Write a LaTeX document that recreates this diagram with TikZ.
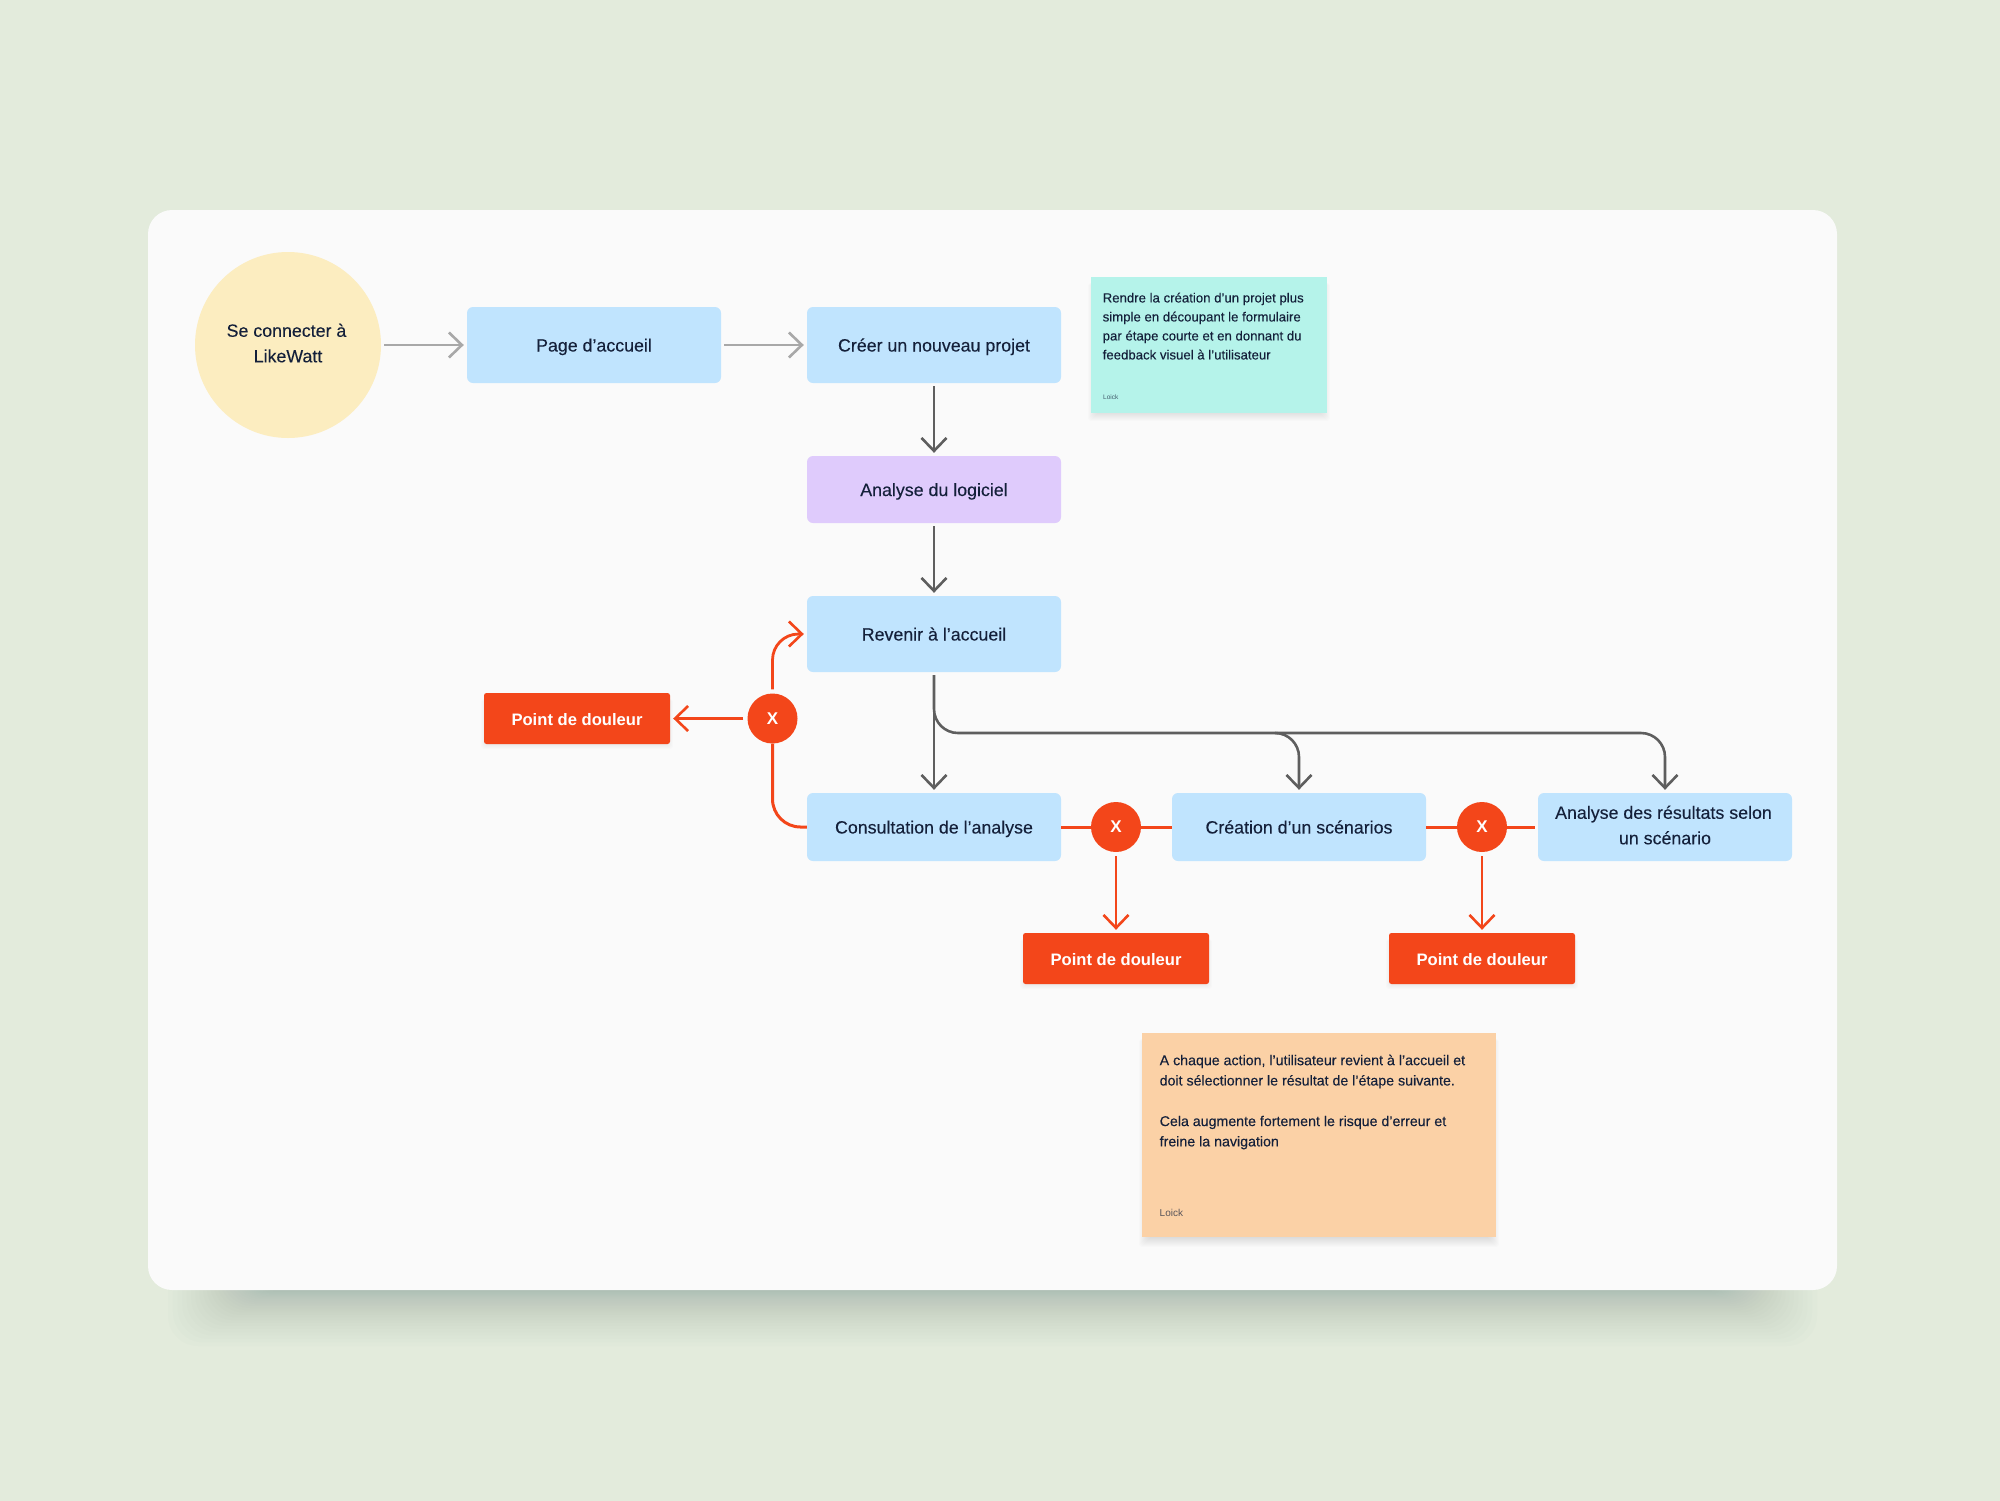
\documentclass[tikz,border=0pt]{standalone}
\usepackage{fontspec}
\setmainfont{Liberation Sans}
\newfontfamily\inkfont[FakeBold=0.15]{Liberation Sans}
\usetikzlibrary{arrows.meta,calc}
\definecolor{bgc}{HTML}{E3EBDC}
\definecolor{cardc}{HTML}{FAFAFA}
\definecolor{bluec}{HTML}{C0E4FE}
\definecolor{purplec}{HTML}{DFCBFC}
\definecolor{yellowc}{HTML}{FCEDC0}
\definecolor{tealc}{HTML}{B5F3EA}
\definecolor{orangec}{HTML}{FBD1A6}
\definecolor{redc}{HTML}{F3461A}
\definecolor{inkc}{HTML}{14203A}
\definecolor{lightarrow}{HTML}{A8A8A8}
\definecolor{darkarrow}{HTML}{5E5E5E}
\definecolor{shadowc}{HTML}{8AA29B}
\newcommand{\capstrut}{\rule{0pt}{17pt}}
\newcommand{\downstrut}{\rule[-4pt]{0pt}{4pt}}
\tikzset{
  boxbase/.style={inner sep=0pt,align=center,text=inkc,font=\fontsize{17.8}{25.5}\selectfont\inkfont,
    execute at begin node=\capstrut,execute at end node=\downstrut},
  twolines/.style={execute at begin node={\mbox{}\\[-9.5pt]},execute at end node={}},
  bluebox/.style={boxbase,fill=bluec,rounded corners=6pt,minimum width=254pt,minimum height=#1},
  bluebox/.default=76pt,
  purplebox/.style={boxbase,fill=purplec,rounded corners=6pt,minimum width=254pt,minimum height=67pt},
  startcircle/.style={boxbase,circle,fill=yellowc,minimum size=186pt},
  painbox/.style={inner sep=0pt,fill=redc,rounded corners=2.5pt,minimum width=186pt,minimum height=51pt,text=white,font=\fontsize{16.6}{22}\selectfont\bfseries,
    execute at begin node=\capstrut,execute at end node=\downstrut},
  xmark/.style={circle,inner sep=0pt,fill=redc,minimum size=50pt,text=white,font=\fontsize{17}{20}\selectfont\bfseries},
  notebox/.style={inner sep=0pt,fill=#1},
  notetext/.style={inner sep=0pt,anchor=north west,align=left,text=inkc},
  tip/.style={-{Straight Barb[length=13pt,width=25pt,line width=2.6pt]}},
  lightlink/.style={tip,draw=lightarrow,line width=2.6pt,shorten <=3pt,shorten >=3pt},
  darklink/.style={tip,draw=darkarrow,line width=2.6pt,shorten <=3pt,shorten >=3pt},
  buslink/.style={draw=darkarrow,line width=2.6pt,rounded corners=24pt},
  redlink/.style={tip,draw=redc,line width=2.8pt,shorten <=4pt,shorten >=3pt},
  redline/.style={draw=redc,line width=3pt},
}
\newcommand{\softdrop}[6]{% x0 y0 x1 y1 steps opacity
  \foreach \i in {1,...,#5}{
    \fill[black,opacity=#6,rounded corners=3pt] ({#1-4+\i},{#2+6}) rectangle ({#3+4-\i},{#4+#5+1-\i});
  }
}
\begin{document}
\begin{tikzpicture}[x=1pt,y=-1pt]
\useasboundingbox (0,0) rectangle (2000,1500);
\fill[bgc] (-3,-3) rectangle (2003,1503);
% card shadow
\foreach \i in {0,...,29}{
  \pgfmathsetmacro{\ease}{1-(1-\i/30)*(1-\i/30)}
  \fill[shadowc,opacity=0.024,rounded corners=30pt] ({168+76*\ease},1180) rectangle ({1817-76*\ease},{1346-56*\ease});
}
% card
\fill[cardc,rounded corners=24pt] (148,210) rectangle (1837,1290);

% nodes
\node[startcircle,twolines] (login) at (288,345) {Se connecter à\hspace*{3pt}\\LikeWatt};
\node[bluebox] (home) at (594,345) {Page d’accueil};
\node[bluebox] (create) at (934,345) {Créer un nouveau projet};
\node[purplebox] (analysis) at (934,489.5) {Analyse du logiciel};
\node[bluebox] (back) at (934,634) {Revenir à l’accueil};
\node[bluebox=68pt] (consult) at (934,827) {Consultation de l’analyse};
\node[bluebox=68pt] (scenario) at (1299,827) {Création d’un scénarios};
\node[bluebox=68pt,twolines] (results) at (1665,827) {Analyse des résultats selon\hspace*{3pt}\\un scénario};

\softdrop{484}{693}{670}{744}{5}{0.01}
\softdrop{1023}{933}{1209}{984}{5}{0.01}
\softdrop{1389}{933}{1575}{984}{5}{0.01}
\node[painbox] (painA) at (577,718.5) {Point de douleur};
\node[painbox] (painB) at (1116,958.5) {Point de douleur};
\node[painbox] (painC) at (1482,958.5) {Point de douleur};
\node[xmark] (xA) at (772.5,718.5) {X};
\node[xmark] (xB) at (1116,827) {X};
\node[xmark] (xC) at (1482,827) {X};

% notes
\softdrop{1091}{277}{1327}{413}{8}{0.011}
\softdrop{1142}{1033}{1496}{1237}{10}{0.011}
\node[notebox=tealc,minimum width=236pt,minimum height=136pt] (noteA) at (1209,345) {};
\node[notetext,font=\fontsize{13.2}{19}\selectfont\inkfont] (noteAtext) at (1102.5,292.5) {Rendre la création d’un projet plus\\simple en découpant le formulaire\\par étape courte et en donnant du\\feedback visuel à l’utilisateur};
\node[notetext,font=\fontsize{6.5}{8}\selectfont,text opacity=0.7] (noteAsign) at (1103,394.5) {Loick};
\node[notebox=orangec,minimum width=354pt,minimum height=204pt] (noteB) at (1319,1135) {};
\node[notetext,font=\fontsize{14.2}{20.3}\selectfont\inkfont] (noteBtext) at (1159.5,1054.5) {A chaque action, l’utilisateur revient à l’accueil et\\doit sélectionner le résultat de l’étape suivante.\\[20.3pt]Cela augmente fortement le risque d’erreur et\\freine la navigation};
\node[notetext,font=\fontsize{10}{12}\selectfont,text opacity=0.7] (noteBsign) at (1159.5,1209.5) {Loick};

% flow
\draw[lightlink] (login) -- (home);
\draw[lightlink] (home) -- (create);
\draw[darklink] (create) -- (analysis);
\draw[darklink] (analysis) -- (back);
\draw[darklink] (back) -- (consult);
\coordinate (bus) at (934,733);
\draw[buslink,tip,shorten <=3pt,shorten >=3pt] (back.south) -- (bus) -- (bus -| results.north) -- (results.north);
\draw[buslink,tip,shorten >=3pt] ($(bus -| scenario.north)+(-24,0)$) -- (bus -| scenario.north) -- (scenario.north);

% pain links
\draw[redlink,rounded corners=26pt] (xA.north) |- (back.west);
\draw[redline,rounded corners=28pt] (consult.west) -| (xA.south);
\draw[redlink] (xA) -- (painA);
\draw[redline] (consult.east) -- (xB.west);
\draw[redline] (xB.east) -- (scenario.west);
\draw[redline] (scenario.east) -- (xC.west);
\draw[redline,shorten >=3pt] (xC.east) -- (results.west);
\draw[redlink] (xB) -- (painB);
\draw[redlink] (xC) -- (painC);
\end{tikzpicture}
\end{document}
